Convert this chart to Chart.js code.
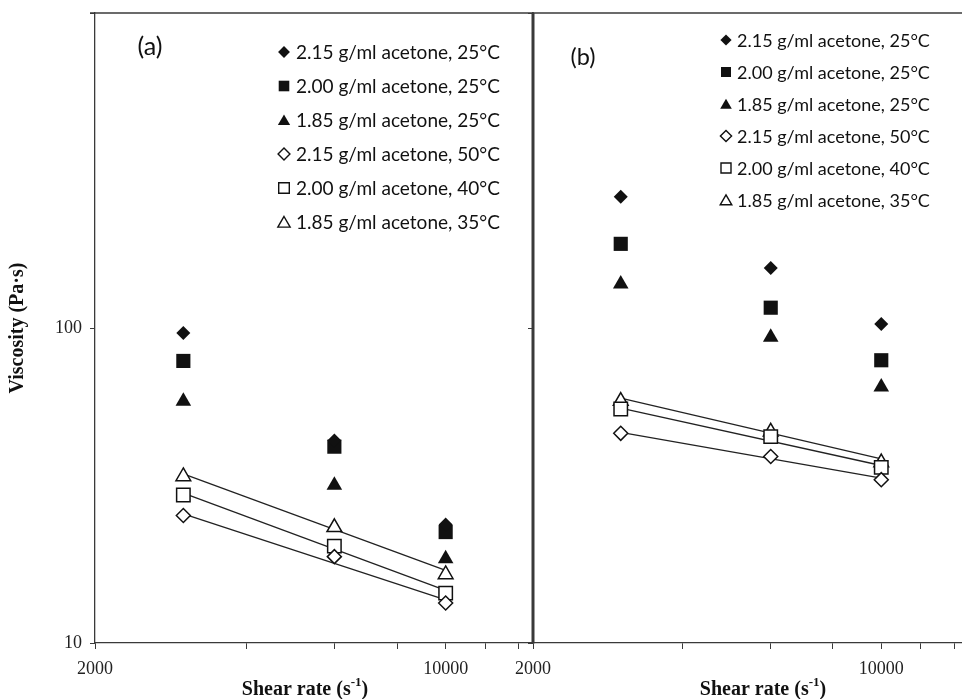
<!DOCTYPE html>
<html>
<head>
<meta charset="utf-8">
<script src="https://cdn.jsdelivr.net/npm/chart.js"></script>
<style>
    html, body { margin: 0; padding: 0; overflow: hidden; background: #fff; }
    #wrap { position: relative; width: 980px; height: 699px; }
    #wrap canvas { position: absolute; left: 0; top: 0; }
</style>
</head>
<body>
<div id="wrap">
    <canvas id="panel-a" width="980" height="699"></canvas>
    <canvas id="panel-b" width="980" height="699"></canvas>
</div>
<script>
// ---- data ----
const shearRate = [3000, 6000, 10000];
const trendX = [3000, 10000];

const xTicks = [2000, 4000, 6000, 8000, 10000, 12000, 14000];
const xTickLabels = [2000, 10000];
const yTicks = [10, 100, 1000];
const yTickLabels = [10, 100];

const legendLabels = [
    '2.15 g/ml acetone, 25°C',
    '2.00 g/ml acetone, 25°C',
    '1.85 g/ml acetone, 25°C',
    '2.15 g/ml acetone, 50°C',
    '2.00 g/ml acetone, 40°C',
    '1.85 g/ml acetone, 35°C'
];

// panel (a)
const a215at25 = [96.4, 43.9, 23.8];
const a200at25 = [78.6, 42.0, 22.5];
const a185at25 = [58.5, 31.7, 18.5];
const a215at50 = [25.4, 18.8, 13.4];
const a200at40 = [29.5, 20.3, 14.4];
const a185at35 = [33.8, 23.3, 16.5];
// power-law trend lines (a), ends at 3000 and 10000
const aTrend215at50 = [25.7, 13.7];
const aTrend200at40 = [29.9, 14.7];
const aTrend185at35 = [34.4, 17.0];

// panel (b)
const b215at25 = [261, 155, 103];
const b200at25 = [185, 116, 79];
const b185at25 = [138, 93.5, 65];
const b215at50 = [46.3, 39.1, 33.0];
const b200at40 = [55.3, 45.2, 36.1];
const b185at35 = [58.6, 46.8, 37.4];
const bTrend215at50 = [46.6, 33.4];
const bTrend200at40 = [55.7, 36.6];
const bTrend185at35 = [59.9, 38.4];

// ---- styles ----
const INK = '#111';
const AXIS = '#3a3a3a';
const markers = [
    { shape: 'rectRot', filled: true, r: 7 },
    { shape: 'rect', filled: true, r: 10 },
    { shape: 'triangle', filled: true, r: 9 },
    { shape: 'rectRot', filled: false, r: 7 },
    { shape: 'rect', filled: false, r: 9.5 },
    { shape: 'triangle', filled: false, r: 8.5 }
];

function buildDatasets(series, trends) {
    const ds = series.map((vals, i) => ({
        label: legendLabels[i],
        data: shearRate.map((x, j) => ({ x, y: vals[j] })),
        showLine: false,
        pointStyle: markers[i].shape,
        pointRadius: markers[i].r,
        pointHoverRadius: markers[i].r,
        pointBackgroundColor: markers[i].filled ? INK : '#fff',
        pointBorderColor: INK,
        pointBorderWidth: markers[i].filled ? 0 : 1.5,
        order: 0
    }));
    trends.forEach(t => ds.push({
        data: trendX.map((x, j) => ({ x, y: t[j] })),
        showLine: true,
        pointRadius: 0,
        borderColor: '#222',
        borderWidth: 1.3,
        order: 1
    }));
    return ds;
}

// legend markers drawn by hand (bbox-centred like the figure), k = size scale
function drawMarker(ctx, m, x, y, k) {
    ctx.beginPath();
    if (m.shape === 'rect') {
        ctx.rect(x - 5 * k, y - 5 * k, 10 * k, 10 * k);
    } else if (m.shape === 'rectRot') {
        const d = 5.6 * k;
        ctx.moveTo(x - d, y); ctx.lineTo(x, y - d); ctx.lineTo(x + d, y); ctx.lineTo(x, y + d);
        ctx.closePath();
    } else {
        ctx.moveTo(x, y - 5.2 * k); ctx.lineTo(x + 5.8 * k, y + 4.8 * k); ctx.lineTo(x - 5.8 * k, y + 4.8 * k);
        ctx.closePath();
    }
    ctx.fillStyle = m.filled ? INK : '#fff';
    ctx.fill();
    if (!m.filled) { ctx.lineWidth = 1.4; ctx.strokeStyle = INK; ctx.stroke(); }
}

// font size that makes a text hit a given width
function fitFont(ctx, text, width, weight) {
    ctx.font = (weight || '') + ' 20px Lato';
    return 20 * width / ctx.measureText(text).width;
}

const panelDecor = {
    id: 'panelDecor',
    afterDraw(chart, args, o) {
        const { ctx, chartArea: ca } = chart;
        ctx.save();
        // top frame line
        ctx.strokeStyle = AXIS;
        ctx.lineWidth = 1.6;
        ctx.beginPath();
        ctx.moveTo(ca.left - (o.divider ? 5 : 0), ca.top);
        ctx.lineTo(ca.right, ca.top);
        ctx.stroke();
        // thick divider between panels
        if (o.divider) {
            ctx.lineWidth = 3;
            ctx.beginPath();
            ctx.moveTo(ca.right - 1, ca.top);
            ctx.lineTo(ca.right - 1, ca.bottom);
            ctx.stroke();
        }
        // legend
        const fs = fitFont(ctx, legendLabels[0], o.textW);
        ctx.font = fs.toFixed(2) + 'px Lato';
        ctx.textBaseline = 'middle';
        ctx.textAlign = 'left';
        legendLabels.forEach((lbl, i) => {
            const y = o.legendY + i * o.legendDy;
            drawMarker(ctx, markers[i], o.markerX, y, o.markerK);
            ctx.fillStyle = INK;
            ctx.fillText(lbl, o.textX, y + 1);
        });
        // panel tag
        ctx.font = fitFont(ctx, o.tag, 25).toFixed(2) + 'px Lato';
        ctx.textAlign = 'center';
        ctx.fillText(o.tag, o.tagX, o.tagY);
        // x-axis title with superscript
        const main = 'Shear rate (s';
        ctx.font = 'bold 20px "Liberation Serif"';
        const w = ctx.measureText(main).width;
        ctx.font = 'bold 13px "Liberation Serif"';
        const w2 = ctx.measureText('-1').width;
        ctx.font = 'bold 20px "Liberation Serif"';
        const w3 = ctx.measureText(')').width;
        let x0 = o.titleX - (w + w2 + w3) / 2;
        ctx.textAlign = 'left';
        ctx.fillStyle = INK;
        ctx.fillText(main, x0, 690);
        ctx.font = 'bold 13px "Liberation Serif"';
        ctx.fillText('-1', x0 + w, 683);
        ctx.font = 'bold 20px "Liberation Serif"';
        ctx.fillText(')', x0 + w + w2, 690);
        ctx.restore();
    }
};

function xScale() {
    return {
        type: 'logarithmic',
        min: 2000,
        max: 15000,
        afterBuildTicks: s => { s.ticks = xTicks.map(v => ({ value: v })); },
        afterFit: s => { s.height = 699 - 643; s.paddingLeft = 0; s.paddingRight = 0; },
        ticks: {
            autoSkip: false, maxRotation: 0, padding: 9, color: '#222',
            font: { family: 'Liberation Serif', size: 18 },
            callback: v => xTickLabels.includes(v) ? String(v) : ''
        },
        grid: { drawOnChartArea: false, drawTicks: true, tickLength: 6, color: AXIS },
        border: { color: AXIS, width: 1.3 }
    };
}

function yScale(withLabels) {
    return {
        type: 'logarithmic',
        min: 10,
        max: 1000,
        afterBuildTicks: s => { s.ticks = yTicks.map(v => ({ value: v })); },
        afterFit: s => { s.width = withLabels ? 95 : 5; s.paddingTop = 0; s.paddingBottom = 0; },
        ticks: {
            display: withLabels, padding: 8, color: '#222',
            font: { family: 'Liberation Serif', size: 18 },
            callback: v => yTickLabels.includes(v) ? String(v) : ''
        },
        grid: { drawOnChartArea: false, drawTicks: true, tickLength: 5, color: AXIS },
        border: { color: AXIS, width: 1.3 },
        title: {
            display: withLabels,
            text: 'Viscosity (Pa·s)',
            color: INK,
            font: { family: 'Liberation Serif', size: 20, weight: 'bold', lineHeight: 1 },
            padding: { top: 8, bottom: 0 }
        }
    };
}

function makePanel(id, datasets, padding, decor, withLabels) {
    return new Chart(document.getElementById(id), {
        type: 'scatter',
        data: { datasets },
        options: {
            responsive: false,
            animation: false,
            devicePixelRatio: 1,
            events: [],
            layout: { padding },
            scales: { x: xScale(), y: yScale(withLabels) },
            plugins: { legend: { display: false }, tooltip: { enabled: false }, panelDecor: decor }
        },
        plugins: [panelDecor]
    });
}

makePanel('panel-a',
    buildDatasets([a215at25, a200at25, a185at25, a215at50, a200at40, a185at35],
                  [aTrend215at50, aTrend200at40, aTrend185at35]),
    { left: 0, top: 13, right: 980 - 534, bottom: 0 },
    { divider: true, markerX: 284, markerK: 1.06, textX: 296, textW: 204, legendY: 52, legendDy: 34,
      tag: '(a)', tagX: 150, tagY: 47, titleX: 305 },
    true);

makePanel('panel-b',
    buildDatasets([b215at25, b200at25, b185at25, b215at50, b200at40, b185at35],
                  [bTrend215at50, bTrend200at40, bTrend185at35]),
    { left: 533 - 5, top: 13, right: 10, bottom: 0 },
    { divider: false, markerX: 726, markerK: 1, textX: 737, textW: 193, legendY: 40, legendDy: 32,
      tag: '(b)', tagX: 583, tagY: 57, titleX: 763 },
    false);
</script>
</body>
</html>
